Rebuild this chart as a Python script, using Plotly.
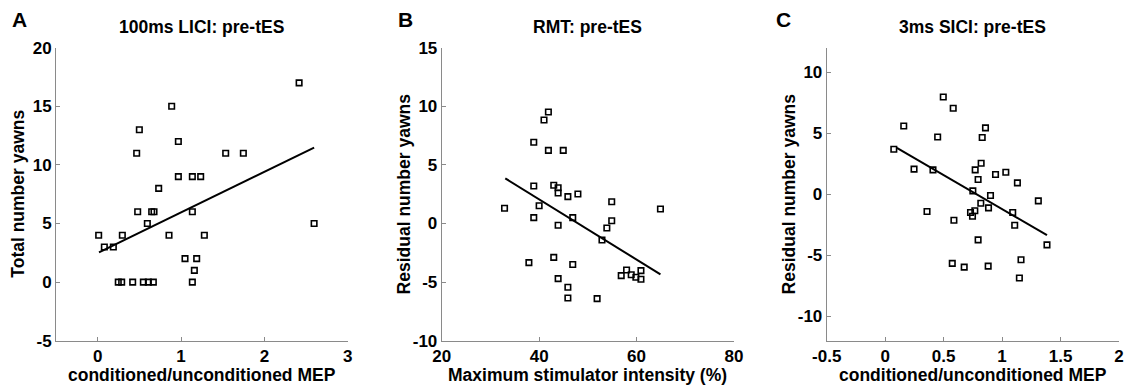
import plotly.graph_objects as go

W, H = 1125, 388

# ---------------- data ----------------
# Panel A: 100ms LICI
a_x = [0.012, 0.08, 0.188, 0.296, 0.247, 0.288, 0.42, 0.548, 0.608, 0.668, 1.136,
       1.16, 1.048, 1.188, 0.856, 1.28, 0.596, 0.48, 0.648, 0.676, 1.136, 0.732,
       0.968, 1.136, 1.236, 0.468, 1.536, 1.748, 0.968, 0.5, 0.888, 2.417, 2.597]
a_y = [4, 3, 3, 4, 0, 0, 0, 0, 0, 0, 0,
       1, 2, 2, 4, 4, 5, 6, 6, 6, 6, 8,
       9, 9, 9, 11, 11, 11, 12, 13, 15, 17, 5]
a_fit_x = [0.016, 2.597]
a_fit_y = [2.54, 11.47]

# Panel B: RMT
b_x = [32.9, 38.9, 38.9, 38.9, 37.9, 40.0, 41.0, 41.9, 41.9, 44.95, 43.0, 43.9,
       43.9, 43.9, 45.9, 47.96, 46.9, 43.0, 43.9, 46.9, 45.9, 45.9, 51.9, 52.9,
       53.9, 54.9, 54.9, 56.85, 57.95, 58.9, 59.86, 60.9, 60.9, 64.9]
b_y = [1.3, 6.93, 3.2, 0.5, -3.34, 1.52, 8.83, 9.51, 6.24, 6.24, 3.26, 3.05,
       2.6, -0.15, 2.29, 2.52, 0.5, -2.89, -4.7, -3.5, -5.44, -6.36, -6.41, -1.41,
       -0.38, 0.24, 1.86, -4.45, -3.97, -4.37, -4.59, -4.76, -4.02, 1.24]
b_fit_x = [33.05, 64.9]
b_fit_y = [3.85, -4.34]

# Panel C: 3ms SICI
c_x = [0.074, 0.159, 0.247, 0.409, 0.358, 0.449, 0.497, 0.582, 0.588, 0.574, 0.676,
       0.75, 0.73, 0.767, 0.747, 0.77, 0.821, 0.795, 0.83, 0.858, 0.818, 0.795,
       0.881, 0.901, 0.884, 0.944, 1.032, 1.131, 1.091, 1.108, 1.31, 1.384, 1.162, 1.148]
c_y = [3.68, 5.59, 2.05, 1.99, -1.42, 4.69, 7.96, 7.04, -2.13, -5.67, -5.97,
       0.27, -1.5, -1.36, -1.8, 1.99, 2.54, 1.2, 4.64, 5.43, -0.74, -3.74,
       -5.89, -0.11, -1.12, 1.61, 1.8, 0.93, -1.5, -2.54, -0.55, -4.15, -5.37, -6.87]
c_fit_x = [0.1, 1.384]
c_fit_y = [3.79, -3.36]

titles = ["100ms LICI: pre-tES", "RMT: pre-tES", "3ms SICI: pre-tES"]
letters = ["A", "B", "C"]
xlabels = ["conditioned/unconditioned MEP", "Maximum stimulator intensity (%)",
           "conditioned/unconditioned MEP"]
ylabels = ["Total number yawns", "Residual number yawns", "Residual number yawns"]
x_ranges = [[-0.5, 3], [20, 80], [-0.5, 2]]
y_ranges = [[-5, 20], [-10, 15], [-12, 12]]
x_ticks = [[0, 1, 2, 3], [20, 40, 60, 80], [-0.5, 0, 0.5, 1, 1.5, 2]]
y_ticks = [[-5, 0, 5, 10, 15, 20], [-10, -5, 0, 5, 10, 15], [-10, -5, 0, 5, 10]]

# ---------------- layout geometry (pixels) ----------------
plot_left = [56, 441.7, 826.7]
plot_right = [347.7, 734, 1119]
plot_top, plot_bottom = 47.7, 340.7

FONT = "Liberation Sans, Arial, Helvetica, sans-serif"
AXC = "#8a8a8a"

fig = go.Figure()
datasets = [(a_x, a_y, a_fit_x, a_fit_y), (b_x, b_y, b_fit_x, b_fit_y),
            (c_x, c_y, c_fit_x, c_fit_y)]

layout = dict(
    width=W, height=H, margin=dict(l=0, r=0, t=0, b=0, autoexpand=False),
    paper_bgcolor="white", plot_bgcolor="white", showlegend=False,
    font=dict(family=FONT, color="black"),
)
annotations = []


def px(x):
    return x / W


def py(y):
    return 1 - y / H


for i, (xs, ys, fx, fy) in enumerate(datasets):
    n = "" if i == 0 else str(i + 1)
    xa, ya = "x" + n, "y" + n
    fig.add_trace(go.Scatter(
        x=xs, y=ys, mode="markers", xaxis=xa, yaxis=ya, cliponaxis=False,
        marker=dict(symbol="square-open", size=5.5, color="black",
                    line=dict(width=1.6, color="black")),
        hoverinfo="skip"))
    fig.add_trace(go.Scatter(
        x=fx, y=fy, mode="lines", xaxis=xa, yaxis=ya,
        line=dict(color="black", width=2), hoverinfo="skip"))
    common = dict(showgrid=False, zeroline=False, showline=True, linecolor=AXC,
                  linewidth=1, ticks="inside", ticklen=4, tickcolor=AXC,
                  tickfont=dict(family=FONT, size=17, color="black"),
                  mirror=False, automargin=False, ticklabelstandoff=0)
    layout["xaxis" + n] = dict(
        domain=[px(plot_left[i]), px(plot_right[i])], range=x_ranges[i],
        tickvals=x_ticks[i], ticktext=[f"<b>{v:g}</b>" for v in x_ticks[i]],
        anchor=ya, **common)
    layout["yaxis" + n] = dict(
        domain=[py(plot_bottom), py(plot_top)], range=y_ranges[i],
        tickvals=y_ticks[i], ticktext=[f"<b>{v:g}</b>" for v in y_ticks[i]],
        anchor=xa, **common)
    cx = (plot_left[i] + plot_right[i]) / 2
    # title
    annotations.append(dict(
        text=f"<b>{titles[i]}</b>", x=px(cx), y=py(27), xref="paper", yref="paper",
        xanchor="center", yanchor="middle", showarrow=False,
        font=dict(family=FONT, size=17.5, color="black")))
    # panel letter
    letter_x = [10, 396, 774][i]
    annotations.append(dict(
        text=f"<b>{letters[i]}</b>", x=px(letter_x), y=py(19), xref="paper",
        yref="paper", xanchor="left", yanchor="middle", showarrow=False,
        font=dict(family=FONT, size=21, color="black")))
    # x label
    annotations.append(dict(
        text=f"<b>{xlabels[i]}</b>", x=px(cx), y=py(375), xref="paper",
        yref="paper", xanchor="center", yanchor="middle", showarrow=False,
        font=dict(family=FONT, size=17.5, color="black")))
    # y label
    ylab_x = plot_left[i] - 37.5
    annotations.append(dict(
        text=f"<b>{ylabels[i]}</b>", x=px(ylab_x), y=py((plot_top + plot_bottom) / 2),
        xref="paper", yref="paper", xanchor="center", yanchor="middle",
        showarrow=False, textangle=-90,
        font=dict(family=FONT, size=17.5, color="black")))

layout["annotations"] = annotations
fig.update_layout(**layout)
fig.write_html("out.html")
